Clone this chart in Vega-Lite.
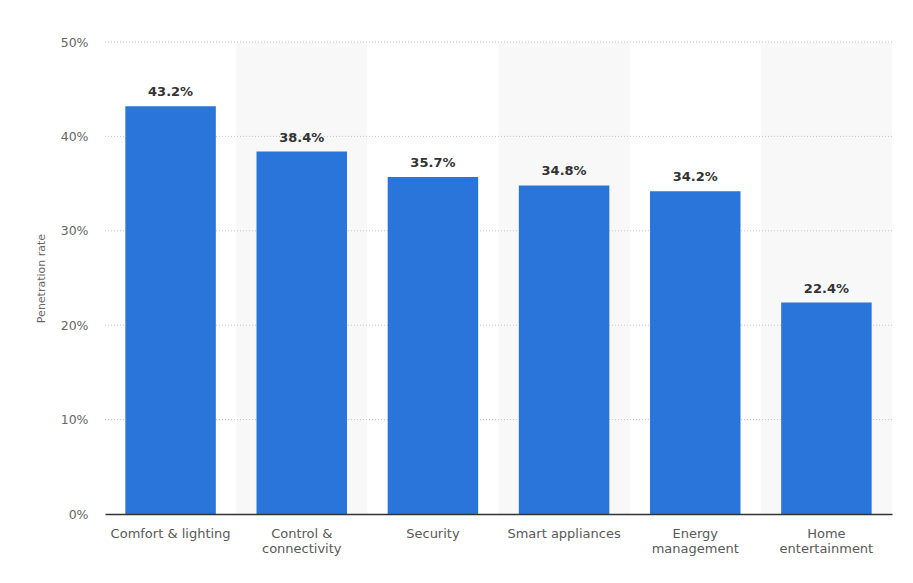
{
  "$schema": "https://vega.github.io/schema/vega-lite/v6.json",
  "width": 787,
  "height": 472,
  "autosize": "none",
  "padding": {"left": 105, "top": 42, "right": 21, "bottom": 69},
  "background": "white",
  "config": {
    "view": {"stroke": null},
    "font": "DejaVu Sans"
  },
  "datasets": {
    "bars": [
      {"category": "Comfort & lighting", "rate": 43.2},
      {"category": "Control & connectivity", "rate": 38.4},
      {"category": "Security", "rate": 35.7},
      {"category": "Smart appliances", "rate": 34.8},
      {"category": "Energy management", "rate": 34.2},
      {"category": "Home entertainment", "rate": 22.4}
    ],
    "shade": [
      {"category": "Control & connectivity"},
      {"category": "Smart appliances"},
      {"category": "Home entertainment"}
    ],
    "grid": [
      {"v": 10}, {"v": 20}, {"v": 30}, {"v": 40}, {"v": 50}
    ]
  },
  "layer": [
    {
      "data": {"name": "shade"},
      "mark": {"type": "rect", "color": "#f8f8f8"},
      "encoding": {
        "x": {"field": "category", "type": "nominal", "sort": null,
              "scale": {"type": "band", "domain": ["Comfort & lighting", "Control & connectivity", "Security", "Smart appliances", "Energy management", "Home entertainment"], "paddingInner": 0, "paddingOuter": 0}}
      }
    },
    {
      "data": {"name": "grid"},
      "mark": {"type": "rule", "color": "#c4c4c4", "strokeDash": [1, 2], "strokeWidth": 1},
      "encoding": {
        "y": {"field": "v", "type": "quantitative", "scale": {"domain": [0, 50]}}
      }
    },
    {
      "data": {"name": "bars"},
      "mark": {"type": "bar", "color": "#2a75da", "width": {"band": 0.69}},
      "encoding": {
        "x": {"field": "category", "type": "nominal", "sort": null,
              "axis": {
                "title": null,
                "labelAngle": 0,
                "bandPosition": 0.5,
                "labelAlign": "center",
                "labelFontSize": 13,
                "labelColor": "#595959",
                "labelPadding": 19,
                "labelLineHeight": 15,
                "ticks": false,
                "domainColor": "#333333",
                "domainWidth": 1.3,
                "labelExpr": "datum.value == 'Control & connectivity' ? ['Control &', 'connectivity'] : datum.value == 'Energy management' ? ['Energy', 'management'] : datum.value == 'Home entertainment' ? ['Home', 'entertainment'] : datum.value"
              }},
        "y": {"field": "rate", "type": "quantitative",
              "scale": {"domain": [0, 50]},
              "axis": {
                "title": "Penetration rate",
                "titleFontSize": 11,
                "titleFontWeight": "normal",
                "titleColor": "#666666",
                "titlePadding": 14,
                "values": [0, 10, 20, 30, 40, 50],
                "labelExpr": "datum.value + '%'",
                "labelFontSize": 12.5,
                "labelColor": "#666666",
                "labelPadding": 17,
                "grid": false,
                "ticks": false,
                "domain": false
              }}
      }
    },
    {
      "data": {"name": "bars"},
      "mark": {"type": "text", "dy": -14, "fontSize": 13, "fontWeight": "bold", "color": "#333333",
               "text": {"expr": "format(datum.rate, '.1f') + '%'"}},
      "encoding": {
        "x": {"field": "category", "type": "nominal", "sort": null},
        "y": {"field": "rate", "type": "quantitative"}
      }
    }
  ]
}
